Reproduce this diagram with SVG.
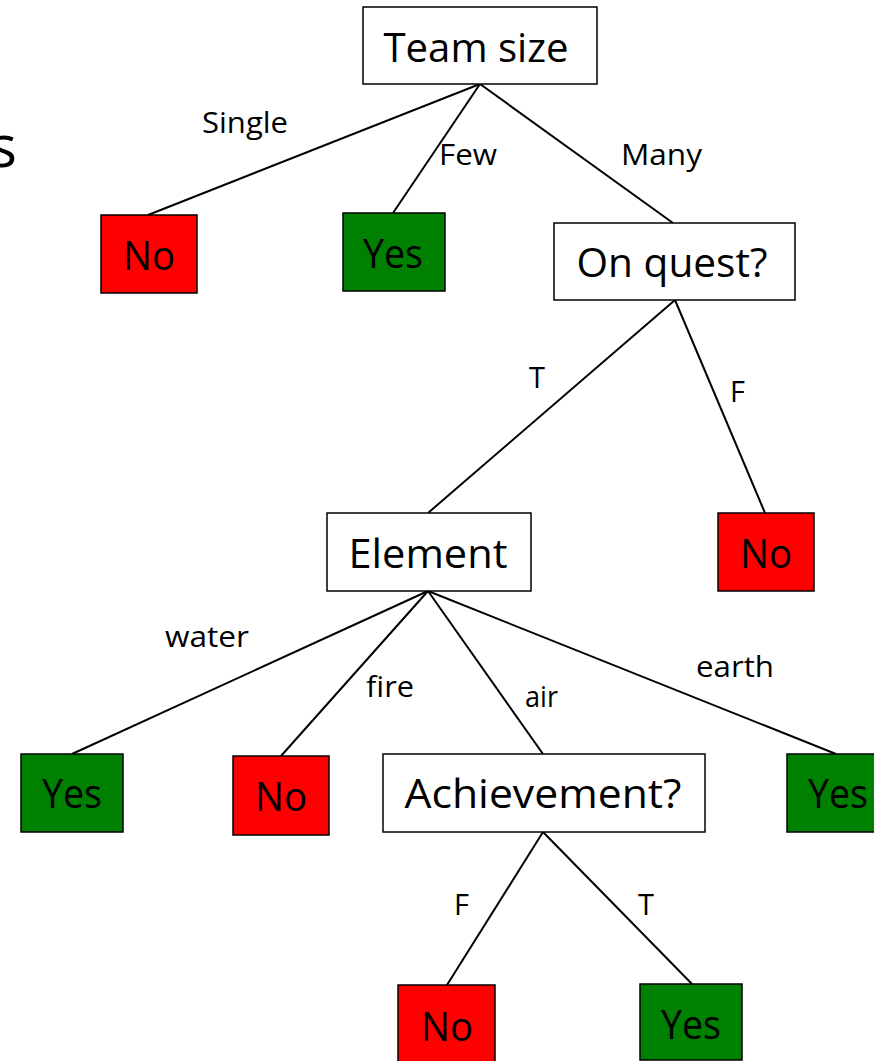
<svg xmlns="http://www.w3.org/2000/svg" width="874" height="1061" viewBox="0 0 874 1061">
<style>
.box{stroke:#000;stroke-width:1.5}
.q{fill:#fff}
.no{fill:#ff0000}
.yes{fill:#008000}
.t{font-family:"Open Sans","Liberation Sans",Arial,sans-serif;font-size:41px;fill:#000;text-anchor:middle}
.l{font-family:"Open Sans","Liberation Sans",Arial,sans-serif;font-size:29px;fill:#000}
.e{stroke:#000;stroke-width:2;fill:none}
</style>
<rect width="874" height="1061" fill="#fff"/>
<text x="17" y="167" font-family="Open Sans, Liberation Sans, Arial, sans-serif" font-size="58" text-anchor="end">s</text>
<g id="connectors">
<line class="e" x1="480" y1="84" x2="148" y2="215"/>
<line class="e" x1="480" y1="84" x2="393" y2="213"/>
<line class="e" x1="480" y1="84" x2="673" y2="223"/>
<line class="e" x1="675" y1="300" x2="428" y2="513"/>
<line class="e" x1="675" y1="300" x2="765" y2="513"/>
<line class="e" x1="428" y1="591" x2="72" y2="754"/>
<line class="e" x1="428" y1="591" x2="281" y2="756"/>
<line class="e" x1="428" y1="591" x2="543" y2="754"/>
<line class="e" x1="428" y1="591" x2="836" y2="754"/>
<line class="e" x1="543" y1="832" x2="447" y2="985"/>
<line class="e" x1="543" y1="832" x2="692" y2="984"/>
<text class="l" x="202" y="133" textLength="86" lengthAdjust="spacingAndGlyphs">Single</text>
<text class="l" x="439" y="165" textLength="58" lengthAdjust="spacingAndGlyphs">Few</text>
<text class="l" x="621" y="165" textLength="81" lengthAdjust="spacingAndGlyphs">Many</text>
<text class="l" x="529" y="388">T</text>
<text class="l" x="730" y="402">F</text>
<text class="l" x="165" y="647" textLength="84" lengthAdjust="spacingAndGlyphs">water</text>
<text class="l" x="366" y="697" textLength="48" lengthAdjust="spacingAndGlyphs">fire</text>
<text class="l" x="525" y="707" textLength="33" lengthAdjust="spacingAndGlyphs">air</text>
<text class="l" x="696" y="677" textLength="78" lengthAdjust="spacingAndGlyphs">earth</text>
<text class="l" x="454" y="915">F</text>
<text class="l" x="638" y="915">T</text>
</g>
<g id="team-size"><rect class="box q" x="363" y="7" width="234" height="77"/><text class="t" x="476" y="62" textLength="185" lengthAdjust="spacingAndGlyphs">Team size</text></g>
<g id="no-single"><rect class="box no" x="101" y="215" width="96" height="78"/><text class="t" x="149" y="270" textLength="52" lengthAdjust="spacingAndGlyphs">No</text></g>
<g id="yes-few"><rect class="box yes" x="343" y="213" width="102" height="78"/><text class="t" x="393" y="268" textLength="60" lengthAdjust="spacingAndGlyphs">Yes</text></g>
<g id="on-quest"><rect class="box q" x="554" y="223" width="241" height="77"/><text class="t" x="672" y="277" textLength="191" lengthAdjust="spacingAndGlyphs">On quest?</text></g>
<g id="element"><rect class="box q" x="327" y="513" width="204" height="78"/><text class="t" x="428" y="568" textLength="159" lengthAdjust="spacingAndGlyphs">Element</text></g>
<g id="no-quest"><rect class="box no" x="718" y="513" width="96" height="78"/><text class="t" x="766" y="568" textLength="52" lengthAdjust="spacingAndGlyphs">No</text></g>
<g id="yes-water"><rect class="box yes" x="21" y="754" width="102" height="78"/><text class="t" x="72" y="808" textLength="60" lengthAdjust="spacingAndGlyphs">Yes</text></g>
<g id="no-fire"><rect class="box no" x="233" y="756" width="96" height="79"/><text class="t" x="281" y="811" textLength="52" lengthAdjust="spacingAndGlyphs">No</text></g>
<g id="achievement"><rect class="box q" x="383" y="754" width="322" height="78"/><text class="t" x="543" y="808" textLength="277" lengthAdjust="spacingAndGlyphs">Achievement?</text></g>
<g id="yes-earth"><rect class="box yes" x="787" y="754" width="102" height="78"/><text class="t" x="838" y="808" textLength="60" lengthAdjust="spacingAndGlyphs">Yes</text></g>
<g id="no-ach"><rect class="box no" x="398" y="985" width="97" height="82"/><text class="t" x="447" y="1041" textLength="52" lengthAdjust="spacingAndGlyphs">No</text></g>
<g id="yes-ach"><rect class="box yes" x="640" y="984" width="102" height="76"/><text class="t" x="691" y="1039" textLength="60" lengthAdjust="spacingAndGlyphs">Yes</text></g>
</svg>
